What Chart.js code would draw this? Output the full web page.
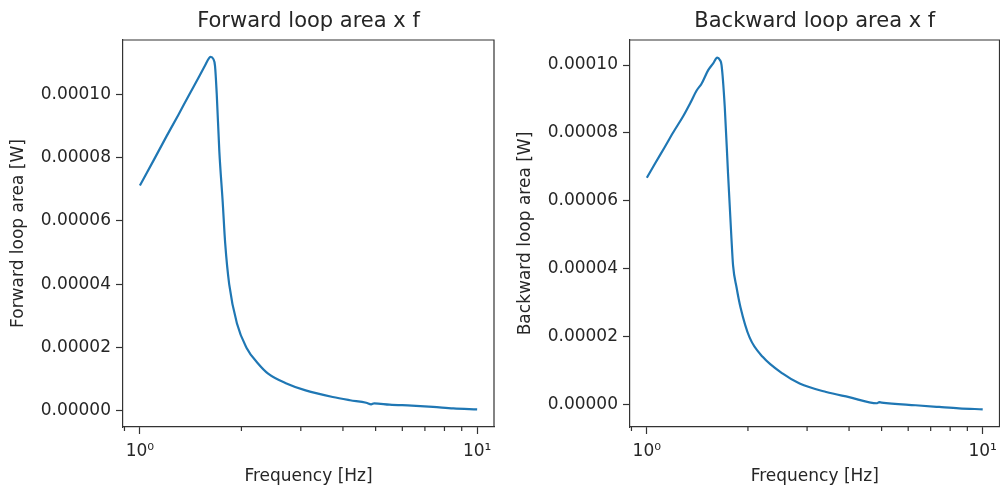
<!DOCTYPE html>
<html>
<head>
<meta charset="utf-8">
<script src="https://cdn.jsdelivr.net/npm/chart.js@4/dist/chart.umd.min.js"></script>
<style>
  html, body { margin: 0; padding: 0; background: #fff; }
  canvas { position: absolute; top: 0; }
  #fwd-canvas { left: 0; }
  #bwd-canvas { left: 500px; }
</style>
</head>
<body>
<canvas id="fwd-canvas" width="500" height="491"></canvas>
<canvas id="bwd-canvas" width="500" height="491"></canvas>
<script>
// values
const fwdFreq = [1.0, 1.1, 1.2, 1.3, 1.4, 1.5, 1.56, 1.6, 1.62, 1.65, 1.67, 1.69, 1.72, 1.76, 1.79, 1.84, 1.94, 2.07, 2.24, 2.4, 2.72, 3.1, 3.73, 4.2, 4.69, 4.85, 4.95, 5.5, 6.4, 7.4, 8.5, 10];
const fwdArea = [7.12e-5, 7.93e-5, 8.68e-5, 9.35e-5, 9.99e-5, 1.057e-4, 1.091e-4, 1.113e-4, 1.118e-4, 1.112e-4, 1.09e-4, 1.0e-4, 8.2e-5, 6.6e-5, 5.3e-5, 4.0e-5, 2.76e-5, 2.0e-5, 1.5e-5, 1.18e-5, 8.7e-6, 6.5e-6, 4.4e-6, 3.4e-6, 2.6e-6, 2.1e-6, 2.4e-6, 2.0e-6, 1.7e-6, 1.3e-6, 0.8e-6, 0.5e-6];

const bwdFreq = [1.0, 1.058, 1.13, 1.199, 1.284, 1.35, 1.407, 1.455, 1.523, 1.576, 1.62, 1.65, 1.669, 1.706, 1.745, 1.786, 1.806, 1.85, 1.9, 2.024, 2.216, 2.54, 2.85, 3.42, 4.0, 4.85, 4.92, 5.0, 6.31, 7.42, 8.5, 10];
const bwdArea = [6.68e-5, 7.1e-5, 7.58e-5, 8.02e-5, 8.5e-5, 8.9e-5, 9.25e-5, 9.45e-5, 9.85e-5, 1.005e-4, 1.022e-4, 1.015e-4, 1.0e-4, 8.77e-5, 6.8e-5, 4.9e-5, 4.1e-5, 3.45e-5, 2.87e-5, 1.97e-5, 1.4e-5, 9.1e-6, 6.2e-6, 3.7e-6, 2.2e-6, 0.4e-6, 0.7e-6, 0.6e-6, -0.2e-6, -0.7e-6, -1.1e-6, -1.4e-6];

const yTicks = [0, 2e-5, 4e-5, 6e-5, 8e-5, 1e-4];
const xMajorTicks = [1, 10];
const xMinorTicks = [0.9, 2, 3, 4, 5, 6, 7, 8, 9];
const xTickLabels = { 1: '10\u2070', 10: '10\u00b9' };

(function () {
  'use strict';

  const ink = '#262626';
  const spine = '#333';
  Chart.defaults.font.family = "'DejaVu Sans', sans-serif";
  Chart.defaults.color = ink;

  // matplotlib draws a full box and short minor ticks on the log axis
  const framePlugin = {
    id: 'frame',
    afterDraw(chart) {
      const { ctx, chartArea: a, scales } = chart;
      ctx.save();
      ctx.strokeStyle = spine;
      ctx.lineWidth = 1.2;
      ctx.beginPath();
      ctx.moveTo(a.left, a.top);
      ctx.lineTo(a.right, a.top);
      ctx.lineTo(a.right, a.bottom);
      xMinorTicks.forEach((v) => {
        const px = scales.x.getPixelForValue(v);
        if (px < a.left || px > a.right) return;
        ctx.moveTo(px, a.bottom);
        ctx.lineTo(px, a.bottom + 4);
      });
      ctx.stroke();
      ctx.restore();
    }
  };

  function makeChart(id, freq, area, cfg) {
    const points = freq.map((f, i) => ({ x: f, y: area[i] }));
    return new Chart(document.getElementById(id), {
      type: 'line',
      data: {
        datasets: [{
          data: points,
          xAxisID: 'x',
          yAxisID: 'y',
          borderColor: '#1f77b4',
          borderWidth: 2.2,
          pointRadius: 0,
          cubicInterpolationMode: 'monotone',
          fill: false
        }]
      },
      options: {
        responsive: false,
        animation: false,
        events: [],
        layout: { padding: { left: 0, right: cfg.padRight, top: 0, bottom: 0 } },
        plugins: {
          legend: { display: false },
          tooltip: { enabled: false },
          title: { display: false }
        },
        scales: {
          x: {
            type: 'logarithmic',
            min: 0.891,
            max: 11.22,
            afterBuildTicks: (scale) => { scale.ticks = xMajorTicks.map((v) => ({ value: v, major: true })); },
            afterFit: (scale) => { scale.height = 64; scale.paddingLeft = 0; scale.paddingRight = 0; },
            ticks: {
              autoSkip: false,
              maxRotation: 0,
              padding: 7,
              font: { size: 17 },
              callback: (v) => xTickLabels[v] || ''
            },
            grid: { drawOnChartArea: false, drawTicks: true, tickLength: 7, tickColor: spine, tickWidth: 1.2 },
            border: { display: true, color: spine, width: 1.2 },
            title: { display: true, text: 'Frequency [Hz]', font: { size: 17 }, padding: { top: 0, bottom: 4 } }
          },
          y: {
            type: 'linear',
            min: cfg.yMin,
            max: cfg.yMax,
            afterBuildTicks: (scale) => { scale.ticks = yTicks.map((v) => ({ value: v })); },
            afterFit: (scale) => { scale.width = cfg.yWidth; scale.paddingTop = 0; scale.paddingBottom = 0; },
            ticks: {
              padding: 5,
              font: { size: 17 },
              callback: (v) => Number(v).toFixed(5)
            },
            grid: { drawOnChartArea: false, drawTicks: true, tickLength: 7, tickColor: spine, tickWidth: 1.2 },
            border: { display: true, color: spine, width: 1.2 },
            title: { display: true, text: cfg.yLabel, font: { size: 17 }, padding: { top: cfg.yTitlePad, bottom: 0 } }
          },
          // empty top axis only carries the subplot title, centred over the plot area
          head: {
            type: 'linear',
            position: 'top',
            afterFit: (scale) => { scale.height = 40; scale.paddingLeft = 0; scale.paddingRight = 0; },
            ticks: { display: false },
            grid: { display: false, drawTicks: false },
            border: { display: false },
            title: {
              display: true,
              text: cfg.title,
              color: ink,
              font: { size: 21 },
              padding: { top: 9.4, bottom: 0 }
            }
          }
        }
      },
      plugins: [framePlugin]
    });
  }

  makeChart('fwd-canvas', fwdFreq, fwdArea, {
    title: 'Forward loop area x f',
    yLabel: 'Forward loop area [W]',
    yMin: -5.06e-6,
    yMax: 1.1716e-4,
    yWidth: 123,
    yTitlePad: 8.8,
    padRight: 6
  });

  makeChart('bwd-canvas', bwdFreq, bwdArea, {
    title: 'Backward loop area x f',
    yLabel: 'Backward loop area [W]',
    yMin: -6.6e-6,
    yMax: 1.0737e-4,
    yWidth: 130,
    yTitlePad: 15.8,
    padRight: 0.5
  });
})();
</script>
</body>
</html>
